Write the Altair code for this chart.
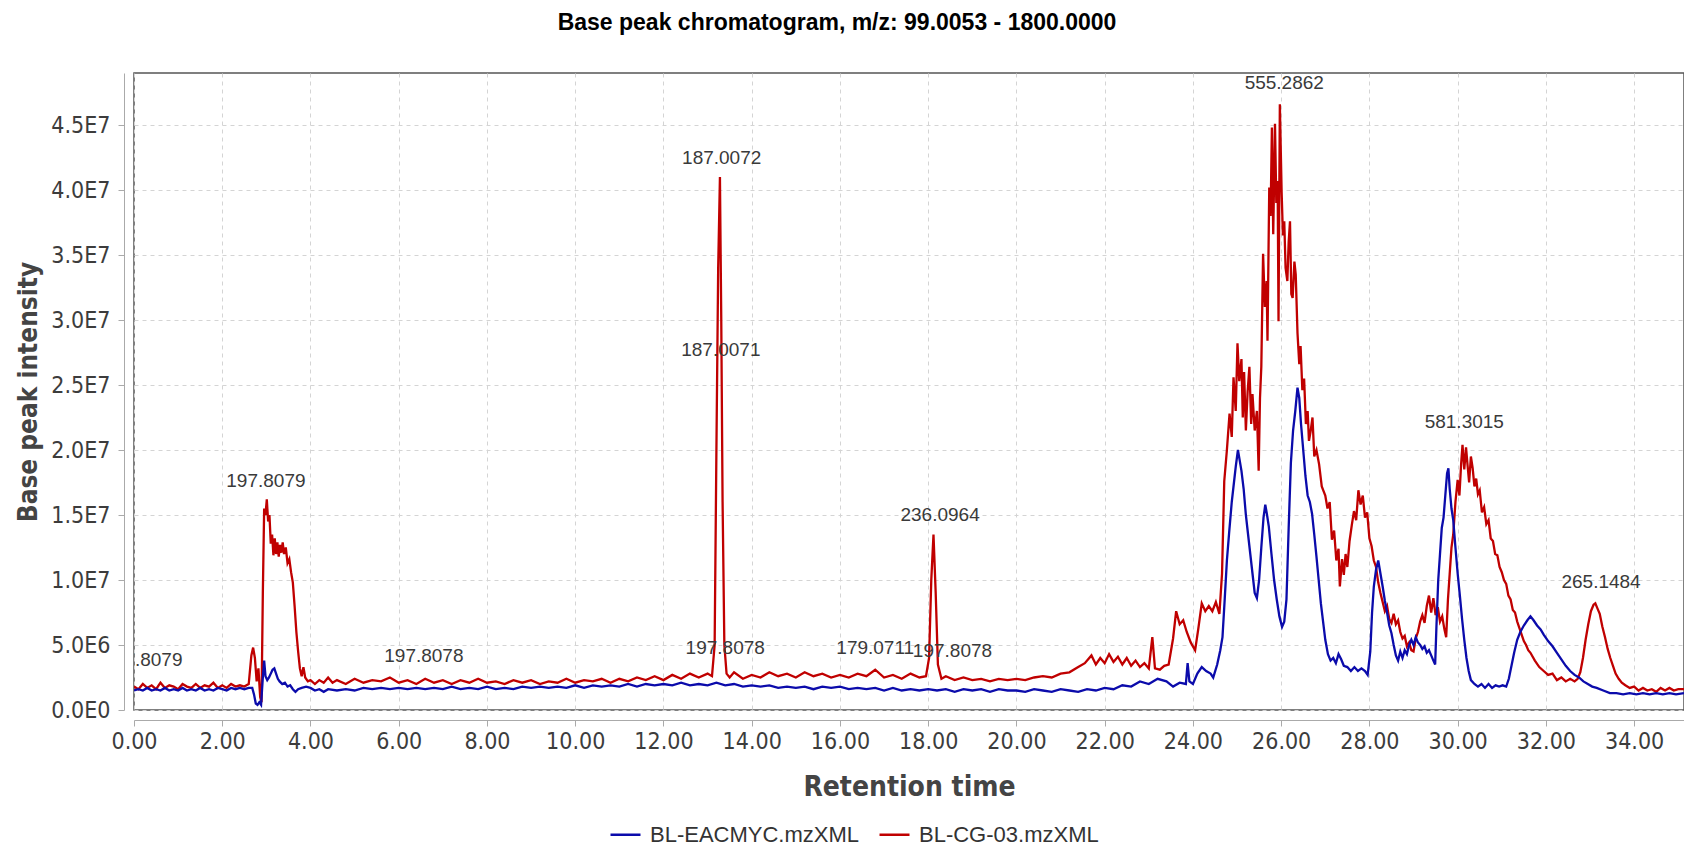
import altair as alt
import pandas as pd

# ---------------- data ----------------
SERIES = ["BL-EACMYC.mzXML", "BL-CG-03.mzXML"]
COLORS = ["#0b0bab", "#c00000"]

# BL-CG-03 (red) : retention time (min), base peak intensity (x1e6)
red_t = [0.00, 0.10, 0.20, 0.30, 0.40, 0.50, 0.60, 0.70, 0.80, 0.90, 1.00, 1.10, 1.20, 1.30, 1.40, 1.50,
         1.60, 1.70, 1.80, 1.90, 2.00, 2.10, 2.20, 2.30, 2.40, 2.50, 2.60, 2.66, 2.70, 2.74, 2.78, 2.82,
         2.86, 2.89, 2.92, 2.95, 2.98, 3.01, 3.04, 3.07, 3.10, 3.13, 3.16, 3.19, 3.22, 3.25, 3.28, 3.31,
         3.34, 3.37, 3.40, 3.44, 3.48, 3.52, 3.56, 3.60, 3.64, 3.68, 3.72, 3.76, 3.80, 3.84, 3.88, 3.94,
         4.00, 4.10, 4.20, 4.30, 4.40, 4.50, 4.60, 4.80, 5.00, 5.20, 5.40, 5.60, 5.80, 6.00, 6.20, 6.40,
         6.60, 6.80, 7.00, 7.20, 7.40, 7.60, 7.80, 8.00, 8.20, 8.40, 8.60, 8.80, 9.00, 9.20, 9.40, 9.60,
         9.80, 10.00, 10.20, 10.40, 10.60, 10.80, 11.00, 11.20, 11.40, 11.60, 11.80, 12.00, 12.20, 12.40,
         12.60, 12.80, 13.00, 13.10, 13.16, 13.20, 13.24, 13.28, 13.31, 13.34, 13.38, 13.43, 13.50, 13.60,
         13.80, 14.00, 14.20, 14.40, 14.60, 14.80, 15.00, 15.20, 15.40, 15.60, 15.80, 16.00, 16.20, 16.40,
         16.60, 16.80, 17.00, 17.20, 17.40, 17.60, 17.80, 17.95, 18.02, 18.07, 18.12, 18.17, 18.22, 18.30,
         18.40, 18.60, 18.80, 19.00, 19.20, 19.40, 19.60, 19.80, 20.00, 20.20, 20.40, 20.60, 20.80, 21.00,
         21.20, 21.40, 21.55, 21.70, 21.80, 21.90, 22.00, 22.10, 22.20, 22.30, 22.40, 22.50, 22.60, 22.70,
         22.80, 22.90, 23.00, 23.08, 23.14, 23.25, 23.35, 23.45, 23.55, 23.62, 23.70, 23.78, 23.86, 23.95,
         24.05, 24.12, 24.20, 24.28, 24.36, 24.44, 24.52, 24.60, 24.66, 24.71, 24.77, 24.83, 24.88, 24.92,
         24.97, 25.01, 25.05, 25.10, 25.13, 25.16, 25.20, 25.24, 25.28, 25.32, 25.35, 25.40, 25.45, 25.49,
         25.52, 25.55, 25.59, 25.63, 25.67, 25.69, 25.73, 25.76, 25.79, 25.82, 25.86, 25.89, 25.92, 25.94,
         25.97, 26.01, 26.04, 26.07, 26.10, 26.14, 26.17, 26.20, 26.23, 26.26, 26.30, 26.33, 26.37, 26.41,
         26.44, 26.48, 26.52, 26.56, 26.60, 26.63, 26.67, 26.71, 26.75, 26.80, 26.86, 26.92, 27.00, 27.05,
         27.10, 27.15, 27.20, 27.25, 27.30, 27.33, 27.38, 27.42, 27.46, 27.50, 27.55, 27.60, 27.65, 27.70,
         27.75, 27.80, 27.85, 27.90, 27.95, 28.00, 28.05, 28.10, 28.15, 28.20, 28.25, 28.30, 28.35, 28.40,
         28.45, 28.50, 28.55, 28.60, 28.65, 28.70, 28.75, 28.80, 28.85, 28.90, 28.95, 29.00, 29.05, 29.10,
         29.15, 29.20, 29.25, 29.30, 29.35, 29.40, 29.45, 29.50, 29.55, 29.60, 29.65, 29.70, 29.74, 29.78,
         29.82, 29.86, 29.90, 29.95, 30.00, 30.04, 30.08, 30.11, 30.15, 30.19, 30.22, 30.26, 30.30, 30.34,
         30.38, 30.42, 30.46, 30.50, 30.55, 30.60, 30.65, 30.70, 30.75, 30.80, 30.85, 30.90, 30.95, 31.00,
         31.05, 31.10, 31.15, 31.20, 31.25, 31.30, 31.35, 31.40, 31.45, 31.50, 31.55, 31.60, 31.65, 31.75,
         31.85, 31.95, 32.05, 32.15, 32.25, 32.35, 32.45, 32.55, 32.65, 32.72, 32.78, 32.84, 32.90, 32.96,
         33.02, 33.08, 33.12, 33.17, 33.22, 33.28, 33.34, 33.40, 33.46, 33.52, 33.58, 33.65, 33.72, 33.80,
         33.90, 34.00, 34.10, 34.20, 34.30, 34.40, 34.50, 34.60, 34.70, 34.80, 34.90, 35.00, 35.13]
red_v = [1.8, 1.6, 2.0, 1.7, 1.9, 1.6, 2.1, 1.7, 1.9, 1.8, 1.6, 2.0, 1.8, 1.7, 2.0, 1.7,
         1.9, 1.8, 2.1, 1.7, 1.9, 1.7, 2.0, 1.8, 1.9, 1.8, 2.0, 4.2, 4.8, 4.0, 2.2, 3.2,
         1.0, 0.6, 9.0, 15.5, 15.0, 16.2, 14.5, 15.0, 12.8, 13.5, 11.9, 13.2, 12.0, 12.9, 11.8, 12.7,
         12.1, 12.9, 12.0, 12.5, 11.3, 11.6, 10.6, 9.8, 8.0, 6.0, 4.5, 3.2, 2.6, 3.3, 2.5, 2.2,
         2.3, 2.0, 2.3, 2.1, 2.5, 2.1, 2.3, 2.0, 2.4, 2.1, 2.3, 2.2, 2.5, 2.1, 2.3, 2.0,
         2.4, 2.1, 2.3, 2.0, 2.3, 2.1, 2.4, 2.1, 2.2, 2.0, 2.3, 2.1, 2.3, 2.0, 2.2, 2.1,
         2.4, 2.1, 2.3, 2.2, 2.4, 2.1, 2.4, 2.2, 2.5, 2.3, 2.6, 2.3, 2.7, 2.4,
         2.8, 2.5, 2.8, 2.6, 5.0, 20.0, 34.0, 41.0, 30.0, 16.0, 5.0, 2.8, 2.5, 2.9,
         2.4, 2.7, 2.5, 2.9, 2.6, 2.8, 2.5, 2.9, 2.6, 2.8, 2.5, 2.7, 2.5, 2.8,
         2.6, 3.1, 2.5, 2.7, 2.4, 2.8, 2.5, 2.6, 4.0, 10.0, 13.5, 9.0, 3.5, 2.4,
         2.6, 2.3, 2.5, 2.3, 2.4, 2.2, 2.4, 2.3, 2.4, 2.3, 2.5, 2.6, 2.5, 2.8,
         2.9, 3.3, 3.6, 4.2, 3.5, 4.0, 3.6, 4.3, 3.7, 4.1, 3.5, 4.0, 3.4, 3.8,
         3.3, 3.6, 3.2, 5.6, 3.2, 3.1, 3.4, 3.5, 5.5, 7.6, 6.6, 6.9, 6.0, 5.2,
         4.6, 6.2, 8.2, 7.6, 8.0, 7.6, 8.3, 7.4, 10.5, 17.6, 20.0, 22.8, 21.0, 25.6,
         23.0, 28.2, 25.3, 27.0, 22.5, 26.0, 21.5, 24.5, 26.4, 22.0, 24.3, 21.5, 23.0, 18.4,
         24.0, 26.4, 35.1, 31.0, 33.0, 28.4, 40.2, 38.0, 44.8, 36.6, 45.1, 39.0, 40.7, 29.9,
         46.6, 39.9, 36.5, 37.6, 34.0, 33.0, 36.0, 37.6, 32.0, 31.7, 34.5, 33.5, 29.0, 26.6,
         28.0, 24.6, 25.5, 22.0, 23.0, 20.7, 21.5, 22.5, 19.5, 20.0, 18.9, 17.2, 16.5, 15.5,
         16.0, 13.1, 13.8, 11.5, 12.4, 9.5, 11.6, 10.4, 12.0, 11.0, 13.0, 14.2, 15.3, 14.6,
         16.9, 15.8, 16.5, 14.8, 15.2, 13.2, 12.6, 11.5, 11.0, 9.8, 9.0, 8.3, 7.6, 8.0,
         7.0, 6.7, 7.4, 6.6, 6.9, 6.0, 5.5, 5.7, 4.9, 5.2, 4.6, 4.5, 5.5, 6.0,
         6.8, 7.3, 6.7, 8.0, 8.8, 7.5, 8.6, 7.3, 7.9, 6.8, 7.2, 6.2, 5.6, 8.5,
         10.5, 12.5, 13.5, 16.0, 17.7, 16.5, 19.0, 20.4, 18.5, 20.2, 19.0, 17.5, 19.5, 18.6,
         17.2, 17.8, 16.6, 16.9, 15.2, 15.6, 14.3, 14.6, 13.2, 13.0, 12.0, 11.9, 11.0, 10.6,
         10.0, 9.7, 8.8, 8.5, 7.7, 7.5, 6.8, 6.3, 5.8, 5.3, 5.0, 4.6, 4.4, 3.8,
         3.3, 3.0, 2.7, 2.8, 2.3, 2.5, 2.2, 2.4, 2.2, 2.4, 2.9, 4.0, 5.4, 6.6,
         7.6, 8.1, 8.2, 7.8, 7.4, 6.4, 5.6, 4.7, 4.0, 3.4, 2.8, 2.4, 2.1, 1.9,
         1.7, 1.8, 1.5, 1.7, 1.5, 1.6, 1.4, 1.7, 1.5, 1.7, 1.5, 1.6, 1.6]

# BL-EACMYC (blue)
blue_t = [0.00, 0.10, 0.20, 0.30, 0.40, 0.50, 0.60, 0.70, 0.80, 0.90, 1.00, 1.10, 1.20, 1.30, 1.40, 1.50,
          1.60, 1.70, 1.80, 1.90, 2.00, 2.10, 2.20, 2.30, 2.40, 2.50, 2.60, 2.68, 2.72, 2.76, 2.80, 2.84,
          2.88, 2.92, 2.95, 2.98, 3.02, 3.06, 3.10, 3.14, 3.18, 3.22, 3.26, 3.30, 3.36, 3.42, 3.48, 3.54,
          3.60, 3.66, 3.72, 3.80, 3.90, 4.00, 4.10, 4.20, 4.30, 4.40, 4.60, 4.80, 5.00, 5.20, 5.40, 5.60,
          5.80, 6.00, 6.20, 6.40, 6.60, 6.80, 7.00, 7.20, 7.40, 7.60, 7.80, 8.00, 8.20, 8.40, 8.60, 8.80,
          9.00, 9.20, 9.40, 9.60, 9.80, 10.00, 10.20, 10.40, 10.60, 10.80, 11.00, 11.20, 11.40, 11.60, 11.80,
          12.00, 12.20, 12.40, 12.60, 12.80, 13.00, 13.20, 13.40, 13.60, 13.80, 14.00, 14.20, 14.40, 14.60,
          14.80, 15.00, 15.20, 15.40, 15.60, 15.80, 16.00, 16.20, 16.40, 16.60, 16.80, 17.00, 17.20, 17.40,
          17.60, 17.80, 18.00, 18.20, 18.40, 18.60, 18.80, 19.00, 19.20, 19.40, 19.60, 19.80, 20.00, 20.20,
          20.40, 20.60, 20.80, 21.00, 21.20, 21.40, 21.60, 21.80, 22.00, 22.20, 22.40, 22.60, 22.80, 23.00,
          23.20, 23.40, 23.55, 23.70, 23.84, 23.88, 23.92, 24.00, 24.10, 24.20, 24.30, 24.40, 24.46, 24.55,
          24.62, 24.67, 24.72, 24.77, 24.82, 24.88, 24.93, 24.97, 25.02, 25.06, 25.10, 25.15, 25.20, 25.25,
          25.30, 25.35, 25.40, 25.45, 25.50, 25.55, 25.60, 25.64, 25.68, 25.72, 25.78, 25.84, 25.90, 25.96,
          26.02, 26.07, 26.12, 26.17, 26.22, 26.27, 26.32, 26.37, 26.41, 26.45, 26.50, 26.55, 26.60, 26.65,
          26.70, 26.75, 26.80, 26.85, 26.90, 26.95, 27.00, 27.06, 27.12, 27.18, 27.24, 27.30, 27.36, 27.42,
          27.50, 27.58, 27.66, 27.74, 27.82, 27.90, 27.96, 28.02, 28.06, 28.10, 28.15, 28.20, 28.25, 28.30,
          28.35, 28.40, 28.45, 28.50, 28.55, 28.60, 28.65, 28.70, 28.75, 28.80, 28.85, 28.90, 28.95, 29.00,
          29.05, 29.10, 29.15, 29.20, 29.25, 29.30, 29.35, 29.40, 29.45, 29.49, 29.52, 29.56, 29.60, 29.64,
          29.68, 29.72, 29.76, 29.79, 29.82, 29.86, 29.90, 29.95, 30.00, 30.05, 30.10, 30.15, 30.20, 30.25,
          30.30, 30.38, 30.46, 30.54, 30.62, 30.70, 30.78, 30.86, 30.94, 31.02, 31.10, 31.16, 31.22, 31.28,
          31.35, 31.42, 31.50, 31.58, 31.65, 31.72, 31.80, 31.88, 31.95, 32.05, 32.15, 32.25, 32.35, 32.45,
          32.55, 32.65, 32.75, 32.85, 32.95, 33.05, 33.15, 33.30, 33.45, 33.60, 33.75, 33.90, 34.05, 34.20,
          34.35, 34.50, 34.65, 34.80, 34.95, 35.13]
blue_v = [1.5, 1.6, 1.5, 1.7, 1.5, 1.6, 1.5, 1.7, 1.5, 1.6, 1.5, 1.7, 1.5, 1.6, 1.5, 1.7,
          1.5, 1.6, 1.5, 1.7, 1.6, 1.5, 1.7, 1.6, 1.7, 1.6, 1.7, 1.7, 1.2, 0.5, 0.4, 0.6,
          0.4, 2.5, 3.8, 2.6, 2.3, 2.5, 2.8, 3.1, 3.2, 2.8, 2.4, 2.2, 2.0, 2.1, 1.8, 1.9,
          1.6, 1.4, 1.6, 1.7, 1.8, 1.7, 1.5, 1.6, 1.4, 1.6, 1.5, 1.6, 1.5, 1.7, 1.6, 1.7,
          1.6, 1.7, 1.6, 1.7, 1.6, 1.7, 1.6, 1.8, 1.6, 1.7, 1.6, 1.8, 1.6, 1.7, 1.6, 1.8,
          1.7, 1.8, 1.7, 1.8, 1.7, 1.9, 1.7, 1.9, 1.8, 1.9, 1.8, 2.0, 1.8, 2.0, 1.9,
          2.0, 1.9, 2.1, 1.9, 2.0, 1.9, 2.1, 1.9, 2.0, 1.8, 1.9, 1.8, 1.9, 1.7,
          1.8, 1.7, 1.8, 1.6, 1.8, 1.7, 1.8, 1.6, 1.7, 1.6, 1.7, 1.5, 1.7, 1.5,
          1.6, 1.5, 1.6, 1.5, 1.6, 1.4, 1.6, 1.5, 1.6, 1.4, 1.6, 1.5, 1.5, 1.4,
          1.6, 1.5, 1.4, 1.6, 1.5, 1.4, 1.6, 1.5, 1.7, 1.6, 1.9, 1.8, 2.2, 2.0,
          2.4, 2.2, 1.8, 2.1, 2.0, 3.6, 2.2, 2.0, 2.8, 3.3, 3.0, 2.8, 2.5, 3.5,
          4.6, 5.6, 8.5, 11.5, 13.6, 16.0, 17.5, 18.7, 20.0, 19.2, 18.4, 17.0, 15.0, 13.5,
          12.0, 10.5, 9.0, 8.6, 10.0, 12.5, 14.8, 15.8, 15.0, 14.1, 12.0, 10.0, 8.5, 7.2,
          6.4, 6.8, 8.5, 14.0, 19.0, 21.5, 23.0, 24.8, 24.0, 22.0, 20.0, 18.0, 16.5, 16.0,
          15.1, 13.5, 11.8, 10.0, 8.2, 6.8, 5.4, 4.3, 3.8, 4.0, 3.6, 4.3, 3.9, 3.4,
          3.3, 3.0, 3.3, 3.0, 3.2, 3.0, 2.7, 4.5, 7.5, 9.5, 10.8, 11.5, 10.5, 9.5,
          8.4, 7.5, 6.5, 5.9, 5.0, 4.2, 3.8, 4.5, 4.0, 4.6, 4.3, 5.0, 5.4, 5.0,
          5.6, 5.2, 5.0, 4.7, 4.9, 4.4, 4.6, 4.2, 3.8, 3.5, 6.5, 10.0, 12.0, 14.0,
          14.8, 16.5, 18.2, 18.6, 17.0, 15.5, 14.6, 12.5, 10.5, 8.8, 7.0, 5.4, 4.0, 3.0,
          2.3, 2.0, 1.8, 2.0, 1.7, 2.0, 1.7, 1.9, 1.8, 1.9, 1.8, 2.4, 3.4, 4.4,
          5.4, 6.0, 6.5, 6.9, 7.2, 6.9, 6.5, 6.2, 5.8, 5.3, 4.9, 4.4, 3.9, 3.4,
          3.0, 2.7, 2.5, 2.2, 2.0, 1.8, 1.7, 1.5, 1.3, 1.3, 1.2, 1.3, 1.2, 1.3,
          1.2, 1.3, 1.2, 1.3, 1.2, 1.3]

# peak annotations: text, retention time, intensity (x1e6)
label_text = ["197.8079", "197.8079", "197.8078", "187.0072", "187.0071",
              "197.8078", "179.0711", "197.8078", "236.0964", "555.2862", "581.3015", "265.1484"]
label_t = [0.20, 2.99, 6.57, 13.32, 13.30, 13.40, 16.80, 18.55, 18.27, 26.07, 30.15, 33.25]
label_v = [3.85, 17.6, 4.15, 42.5, 27.7, 4.8, 4.8, 4.55, 15.0, 48.2, 22.15, 9.85]

# ---------------- frames ----------------
red_df = pd.DataFrame({"t": red_t, "v": [a * 1e6 for a in red_v], "s": SERIES[1]})
blue_df = pd.DataFrame({"t": blue_t, "v": [a * 1e6 for a in blue_v], "s": SERIES[0]})
lab_df = pd.DataFrame({"t": label_t, "v": [a * 1e6 for a in label_v], "label": label_text})

TICK_FONT = "DejaVu Sans Condensed, DejaVu Sans"

x_enc = alt.X(
    "t:Q",
    scale=alt.Scale(domain=[0, 35.13], nice=False, zero=False),
    axis=alt.Axis(
        values=[i * 2 for i in range(18)], format=".2f", title="Retention time",
        offset=10, tickSize=6, labelPadding=4, titlePadding=20,
        titleFontSize=28, gridDash=[4, 4], labelFlush=False,
    ),
)
y_enc = alt.Y(
    "v:Q",
    scale=alt.Scale(domain=[0, 4.9e7], nice=False),
    axis=alt.Axis(
        values=[i * 5e6 for i in range(10)],
        labelExpr="replace(format(datum.value, '.1e'), 'e+', 'E')",
        title="Base peak intensity",
        offset=10, tickSize=6, labelPadding=8, titlePadding=9,
        titleFontSize=26, gridDash=[4, 4],
    ),
)

color_enc = alt.Color(
    "s:N",
    scale=alt.Scale(domain=SERIES, range=COLORS),
    title=None,
    legend=alt.Legend(
        orient="none", legendX=475, legendY=745, direction="horizontal",
        symbolType="stroke", symbolSize=900, symbolStrokeWidth=2.5,
        labelFont="Liberation Sans", labelFontSize=22, labelColor="#333333",
        labelLimit=0, columnPadding=14, labelOffset=8,
    ),
)

red_line = alt.Chart(red_df).mark_line(strokeWidth=2.3, clip=True).encode(
    x=x_enc, y=y_enc, color=color_enc
)
blue_line = alt.Chart(blue_df).mark_line(strokeWidth=2.3, clip=True).encode(
    x=x_enc, y=y_enc, color=color_enc
)
labels = alt.Chart(lab_df).mark_text(
    font="Liberation Sans", fontSize=19, color="#3a3a3a", clip=True, baseline="middle"
).encode(x="t:Q", y="v:Q", text="label:N")

chart = (
    alt.layer(red_line, blue_line, labels)
    .properties(
        width=1550,
        height=637,
        padding={"left": 134, "top": 73, "right": 0, "bottom": 139},
        autosize=alt.AutoSizeParams(type="none"),
        title=alt.TitleParams(
            "Base peak chromatogram, m/z: 99.0053 - 1800.0000",
            font="Liberation Sans", fontSize=23, fontWeight="bold", color="#000000",
            anchor="middle", dx=-72, offset=38,
        ),
        background="#ffffff",
    )
    .configure_view(stroke="#555555", strokeWidth=1.5)
    .configure_axis(
        labelFont=TICK_FONT, labelFontSize=23, labelColor="#3c3c3c",
        titleFont=TICK_FONT, titleFontWeight="bold", titleColor="#444444",
        domainColor="#aaaaaa", tickColor="#aaaaaa", gridColor="#d4d4d4", gridWidth=1,
    )
)

chart.save("out.html", embed_options={"renderer": "svg", "actions": False})
